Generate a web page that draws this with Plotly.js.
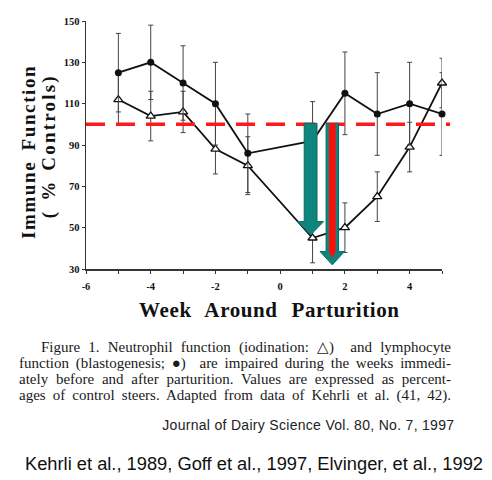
<!DOCTYPE html>
<html>
<head>
<meta charset="utf-8">
<script src="https://cdn.plot.ly/plotly-3.0.1.min.js"></script>
<style>
  html, body { margin: 0; padding: 0; background: #fff; }
  #chart { width: 492px; height: 480px; }
  .annotation[data-index="0"] text { letter-spacing: 1.6px; word-spacing: 4px; }
  .annotation[data-index="1"] text { letter-spacing: 2.2px; word-spacing: 2px; }
  .annotation[data-index="2"] text { letter-spacing: 0.6px; word-spacing: 8px; }
  .annotation[data-index="7"] text { letter-spacing: 0.3px; }
</style>
</head>
<body>
<div id="chart"></div>
<script>
// ---- data ----
const weeks = [-5, -4, -3, -2, -1, 1, 2, 3, 4, 5];
const lymphocyte = [125, 130, 120, 110, 86, 92, 115, 105, 110, 105];
const lymphocyteErr = [19, 18, 18, 20, 19, 19, 20, 20, 20, 20];
const neutrophil = [112, 104, 106, 88, 80, 45, 50, 65, 89, 120];
const neutrophilErr = [12, 12, 10, 12, 14, 12, 12, 12, 12, 12];

const controlLevel = 100;
const controlLineX = [-6, 5.25];

const arrowX = [0.94, 1.61];
const arrowTop = [100.5, 100.5];
const arrowTip = [46.5, 32];

const xTickVals = [-6, -4, -2, 0, 2, 4];
const xTickText = ['-6', '-4', '-2', '0', '2', '4'];
const xMinorVals = [-5, -3, -1, 1, 3, 5];
const yTickVals = [30, 50, 70, 90, 110, 130, 150];
const yTickText = ['30', '50', '70', '90', '110', '130', '150'];

const yTitle1 = 'Immune Function';
const yTitle2 = '( % Controls)';
const xTitle = 'Week Around Parturition';
const captionLines = [
  'Figure 1. Neutrophil function (iodination: \u25B3)  and lymphocyte',
  'function (blastogenesis; \u25CF)  are impaired during the weeks immedi-',
  'ately before and after parturition. Values are expressed as percent-',
  'ages of control steers. Adapted from data of Kehrli et al. (41, 42).'
];
const journalText = 'Journal of Dairy Science Vol. 80, No. 7, 1997';
const refsText = 'Kehrli et al., 1989, Goff et al., 1997, Elvinger, et al., 1992';

// ---- layout geometry ----
const W = 492, H = 480;
const margin = {l: 86, r: 50, t: 21, b: 211};
const xRange = [-6, 5], yRange = [30, 150];
const plotW = W - margin.l - margin.r, plotH = H - margin.t - margin.b;
const pxPerX = plotW / (xRange[1] - xRange[0]);
const pxPerY = plotH / (yRange[1] - yRange[0]);
const paperX = px => (px - margin.l) / plotW;
const paperY = py => (H - margin.b - py) / plotH;
const dataToPaperX = v => (v - xRange[0]) / (xRange[1] - xRange[0]);
const dataToPaperY = v => (v - yRange[0]) / (yRange[1] - yRange[0]);

const serifBold = {family: 'Liberation Serif, Times New Roman, serif', weight: 'bold', color: '#111'};
const serif = {family: 'Liberation Serif, Times New Roman, serif', color: '#1a1a1a'};
const sans = {family: 'Liberation Sans, Arial, sans-serif', color: '#111'};

// ---- arrows built in data units ----
function arrowPath(cx, top, tip, shaftHalfPx, headHalfPx, headLenPx) {
  const s = shaftHalfPx / pxPerX, h = headHalfPx / pxPerX, base = tip + headLenPx / pxPerY;
  return `M ${cx - s},${top} L ${cx + s},${top} L ${cx + s},${base} L ${cx + h},${base} ` +
         `L ${cx},${tip} L ${cx - h},${base} L ${cx - s},${base} Z`;
}
function stripePath(cx, top, tip, halfPx, headLenPx, endPx) {
  const s = halfPx / pxPerX, base = tip + headLenPx / pxPerY, end = tip + endPx / pxPerY;
  return `M ${cx - s},${top} L ${cx + s},${top} L ${cx + s},${base} L ${cx},${end} L ${cx - s},${base} Z`;
}

const teal = '#0e857d';
const shapes = [
  {type: 'line', xref: 'paper', yref: 'paper',
   x0: dataToPaperX(controlLineX[0]), x1: dataToPaperX(controlLineX[1]),
   y0: dataToPaperY(controlLevel), y1: dataToPaperY(controlLevel),
   line: {color: '#ff1a1a', width: 3.5, dash: '19px,11px'}, layer: 'above'},
  {type: 'path', xref: 'x', yref: 'y', path: arrowPath(arrowX[0], arrowTop[0], arrowTip[0], 6.4, 13, 13.3),
   fillcolor: teal, line: {color: '#0a6b65', width: 1}, layer: 'above'},
  {type: 'path', xref: 'x', yref: 'y', path: arrowPath(arrowX[1], arrowTop[1], arrowTip[1], 6.2, 12.2, 13.3),
   fillcolor: teal, line: {color: '#0a6b65', width: 1}, layer: 'above'},
  {type: 'path', xref: 'x', yref: 'y', path: stripePath(arrowX[1], arrowTop[1], arrowTip[1], 3.3, 13.3, 6.5),
   fillcolor: '#ff0d0d', line: {width: 0}, layer: 'above'}
];

const traces = [
  {x: weeks, y: neutrophil, type: 'scatter', mode: 'lines+markers', name: 'Neutrophil', cliponaxis: false,
   line: {color: '#111', width: 1.8},
   marker: {symbol: 'triangle-up', size: 8, color: '#fff', line: {color: '#111', width: 1.3}},
   error_y: {type: 'data', array: neutrophilErr, visible: true, color: '#444', thickness: 1, width: 2.5}},
  {x: weeks, y: lymphocyte, type: 'scatter', mode: 'lines+markers', name: 'Lymphocyte', cliponaxis: false,
   line: {color: '#111', width: 1.8},
   marker: {symbol: 'circle', size: 7, color: '#111'},
   error_y: {type: 'data', array: lymphocyteErr, visible: true, color: '#444', thickness: 1, width: 2.5}}
];

const annotations = [
  {text: yTitle1, xref: 'paper', yref: 'paper', x: paperX(28), y: paperY(152), textangle: -90,
   showarrow: false, xanchor: 'center', yanchor: 'middle', font: Object.assign({size: 19}, serifBold)},
  {text: yTitle2, xref: 'paper', yref: 'paper', x: paperX(49), y: paperY(146), textangle: -90,
   showarrow: false, xanchor: 'center', yanchor: 'middle', font: Object.assign({size: 19}, serifBold)},
  {text: xTitle, xref: 'paper', yref: 'paper', x: paperX(269), y: paperY(310),
   showarrow: false, xanchor: 'center', yanchor: 'middle', font: Object.assign({size: 21}, serifBold)}
];
const captionY = [347, 363, 379, 395];
const captionRight = 450;
const captionLeft = [40, 18, 18, 18];
captionLines.forEach((t, i) => {
  annotations.push({text: t, xref: 'paper', yref: 'paper', x: paperX(captionLeft[i]), y: paperY(captionY[i]),
    showarrow: false, xanchor: 'left', yanchor: 'middle', align: 'left', borderpad: 0,
    font: Object.assign({size: 15}, serif)});
});
annotations.push({text: journalText, xref: 'paper', yref: 'paper', x: paperX(450), y: paperY(425),
  showarrow: false, xanchor: 'right', yanchor: 'middle', font: Object.assign({size: 14}, sans, {color: '#222'})});
annotations.push({text: refsText, xref: 'paper', yref: 'paper', x: paperX(23), y: paperY(463),
  showarrow: false, xanchor: 'left', yanchor: 'middle', font: Object.assign({size: 18.3}, sans)});

const layout = {
  width: W, height: H, margin: margin,
  paper_bgcolor: '#fff', plot_bgcolor: '#fff',
  showlegend: false,
  xaxis: {range: xRange, tickvals: xTickVals, ticktext: xTickText, ticks: 'outside', ticklen: 3, tickwidth: 1,
          tickcolor: '#333', showline: true, linecolor: '#333', linewidth: 1.5, showgrid: false, zeroline: false,
          ticklabelstandoff: 4,
          minor: {tickvals: xMinorVals, ticks: 'outside', ticklen: 3, tickwidth: 1, tickcolor: '#333', showgrid: false},
          tickfont: Object.assign({size: 10.5}, serifBold), fixedrange: true},
  yaxis: {range: yRange, tickvals: yTickVals, ticktext: yTickText, ticks: 'outside', ticklen: 3, tickwidth: 1,
          tickcolor: '#333', showline: true, linecolor: '#333', linewidth: 1.5, showgrid: false, zeroline: false,
          tickfont: Object.assign({size: 10.5}, serifBold), fixedrange: true},
  shapes: shapes,
  annotations: annotations
};

Plotly.newPlot('chart', traces, layout, {displayModeBar: false, staticPlot: true}).then(gd => {
  // justify caption lines (fully justified paragraph as in the reference)
  captionLines.forEach((t, i) => {
    const g = gd.querySelector('.annotation[data-index="' + (3 + i) + '"]');
    if (!g) return;
    const txt = g.querySelector('text.annotation-text');
    if (!txt) return;
    const target = captionRight - captionLeft[i];
    const cur = txt.getComputedTextLength();
    const spaces = (t.match(/ /g) || []).length;
    if (spaces > 0 && target > cur) {
      txt.style.wordSpacing = ((target - cur) / spaces) + 'px';
    }
  });
});
</script>
</body>
</html>
